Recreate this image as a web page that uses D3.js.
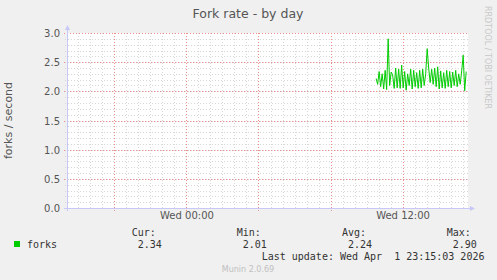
<!DOCTYPE html>
<html>
<head>
<meta charset="utf-8">
<script src="https://cdn.jsdelivr.net/npm/d3@7"></script>
<style>
  body { margin: 0; background: #f0f0f0; }
  text { font-family: "DejaVu Sans", sans-serif; }
  .mono { font-family: "DejaVu Sans Mono", monospace; white-space: pre; }
</style>
</head>
<body>
<div id="chart"></div>
<script>
// data: fork rate samples every 5 minutes, starting Wed 10:32
const startTime = new Date(2026, 3, 1, 10, 32);
const forks = [2.22, 2.12, 2.34, 2.08, 2.30, 2.04, 2.36, 2.03, 2.90, 2.10, 2.33, 2.28, 2.05, 2.40, 2.06,
               2.38, 2.05, 2.45, 2.06, 2.34, 2.02, 2.30, 2.10, 2.38, 2.04, 2.36, 2.08, 2.32, 2.05, 2.36,
               2.06, 2.38, 2.10, 2.30, 2.73, 2.40, 2.15, 2.38, 2.12, 2.40, 2.08, 2.42, 2.04, 2.35, 2.06,
               2.32, 2.05, 2.36, 2.08, 2.34, 2.06, 2.33, 2.10, 2.36, 2.08, 2.30, 2.12, 2.35, 2.62, 2.01, 2.34];
const yTicks = [0, 0.5, 1.0, 1.5, 2.0, 2.5, 3.0];
const xTickLabels = ["Wed 00:00", "Wed 12:00"];
const xTickTimes = [new Date(2026, 3, 1, 0, 0), new Date(2026, 3, 1, 12, 0)];
const statNames = ["Cur:", "Min:", "Avg:", "Max:"];
const statValues = ["2.34", "2.01", "2.24", "2.90"];

const data = forks.map((v, i) => ({ t: new Date(+startTime + i * 5 * 60000), v: v }));

let width = 497, height = 280;
let margin = { top: 33, bottom: 72, left: 67, right: 29 };

let svg = d3.select('#chart')
  .append('svg')
  .attr('width', width)
  .attr('height', height)
  .style('background', '#f0f0f0');

let xScale = d3.scaleTime()
  .domain([new Date(2026, 2, 31, 17, 22), new Date(2026, 3, 1, 15, 38)])
  .range([margin.left, width - margin.right]);

let yScale = d3.scaleLinear()
  .domain([0, 3])
  .range([height - margin.bottom, margin.top]);

// canvas
svg.append('rect')
  .attr('x', margin.left)
  .attr('y', margin.top)
  .attr('width', width - margin.right - margin.left)
  .attr('height', height - margin.bottom - margin.top)
  .attr('fill', 'white');

const inDomain = d => d >= xScale.domain()[0] && d <= xScale.domain()[1];
// minor grid every 40 minutes, major grid every 4 hours
let minorX = d3.range(-12, 24).map(i => new Date(2026, 3, 1, 0, i * 40)).filter(inDomain);
let majorX = d3.range(-2, 5).map(i => new Date(2026, 3, 1, i * 4, 0)).filter(inDomain);
let minorY = d3.range(1, 30).map(i => i / 10);

const px = v => Math.round(v) + 0.5;

let grid = svg.append('g');

grid.selectAll('line.minx')
  .data(minorX)
  .join('line')
  .attr('class', 'minx')
  .attr('x1', d => px(xScale(d)))
  .attr('x2', d => px(xScale(d)))
  .attr('y1', margin.top)
  .attr('y2', height - margin.bottom + 2)
  .attr('stroke', '#d8d8d8')
  .attr('stroke-dasharray', '1,2');

grid.selectAll('line.miny')
  .data(minorY)
  .join('line')
  .attr('class', 'miny')
  .attr('x1', margin.left - 2)
  .attr('x2', width - margin.right)
  .attr('y1', d => px(yScale(d)))
  .attr('y2', d => px(yScale(d)))
  .attr('stroke', '#d8d8d8')
  .attr('stroke-dasharray', '1,2');

grid.selectAll('line.majx')
  .data(majorX)
  .join('line')
  .attr('class', 'majx')
  .attr('x1', d => px(xScale(d)))
  .attr('x2', d => px(xScale(d)))
  .attr('y1', margin.top)
  .attr('y2', height - margin.bottom + 3)
  .attr('stroke', '#f08c8c')
  .attr('stroke-dasharray', '1,2');

grid.selectAll('line.majy')
  .data(yTicks.filter(d => d > 0))
  .join('line')
  .attr('class', 'majy')
  .attr('x1', margin.left - 3)
  .attr('x2', width - margin.right)
  .attr('y1', d => px(yScale(d)))
  .attr('y2', d => px(yScale(d)))
  .attr('stroke', '#f08c8c')
  .attr('stroke-dasharray', '1,2');

// axes
let yAxis = svg.append('g')
  .attr('transform', `translate(${margin.left - 4},0)`)
  .call(d3.axisLeft(yScale).tickValues(yTicks).tickFormat(d3.format('.1f')).tickSize(0).tickPadding(3));
yAxis.select('.domain').remove();
yAxis.selectAll('text').attr('fill', '#555').style('font-size', '10px').attr('dy', '0.35em');

let xAxis = svg.append('g')
  .attr('transform', `translate(0,${height - margin.bottom})`)
  .call(d3.axisBottom(xScale).tickValues(xTickTimes).tickFormat((d, i) => xTickLabels[i]).tickSize(0).tickPadding(4));
xAxis.select('.domain').remove();
xAxis.selectAll('text').attr('fill', '#555').style('font-size', '10px');

// axis lines with arrows
svg.append('line')
  .attr('x1', margin.left + 0.5).attr('x2', margin.left + 0.5)
  .attr('y1', height - margin.bottom + 3).attr('y2', margin.top - 4)
  .attr('stroke', '#c8c8f8');
svg.append('path')
  .attr('d', `M${margin.left - 2},${margin.top - 3} L${margin.left + 3},${margin.top - 3} L${margin.left + 0.5},${margin.top - 8} Z`)
  .attr('fill', '#c8c8f8');
svg.append('line')
  .attr('x1', margin.left - 3).attr('x2', width - margin.right + 3)
  .attr('y1', height - margin.bottom + 0.5).attr('y2', height - margin.bottom + 0.5)
  .attr('stroke', '#c8c8f8');
svg.append('path')
  .attr('d', `M${width - margin.right + 2},${height - margin.bottom - 2} L${width - margin.right + 2},${height - margin.bottom + 3} L${width - margin.right + 7},${height - margin.bottom + 0.5} Z`)
  .attr('fill', '#c8c8f8');

// data line
let line = d3.line()
  .x(d => xScale(d.t))
  .y(d => yScale(d.v));

svg.append('path')
  .datum(data)
  .attr('d', line)
  .attr('fill', 'none')
  .attr('stroke', '#00cc00')
  .attr('stroke-width', 1);

// title
svg.append('text')
  .text('Fork rate - by day')
  .attr('x', 248)
  .attr('y', 18)
  .attr('text-anchor', 'middle')
  .attr('fill', '#555')
  .style('font-size', '12.5px');

// y label
svg.append('text')
  .text('forks / second')
  .attr('transform', `translate(12,${(margin.top + height - margin.bottom) / 2}) rotate(-90)`)
  .attr('text-anchor', 'middle')
  .attr('fill', '#555')
  .style('font-size', '11px');

// side credit
svg.append('text')
  .text('RRDTOOL / TOBI OETIKER')
  .attr('transform', 'translate(485,6) rotate(90)')
  .attr('fill', '#c8c8c8')
  .style('font-size', '8px');

// legend
svg.append('rect')
  .attr('x', 14).attr('y', 241)
  .attr('width', 6).attr('height', 6)
  .attr('fill', '#00cc00');

svg.append('text')
  .attr('class', 'mono')
  .text('forks')
  .attr('x', 27).attr('y', 248)
  .attr('fill', '#333')
  .style('font-size', '10px');

const statX = [131.7, 236.7, 342, 446.7];
statNames.forEach((name, i) => {
  svg.append('text')
    .attr('class', 'mono')
    .text(name)
    .attr('x', statX[i]).attr('y', 236)
    .attr('fill', '#333')
    .style('font-size', '10px');
  svg.append('text')
    .attr('class', 'mono')
    .text(statValues[i])
    .attr('x', statX[i] + 6).attr('y', 248)
    .attr('fill', '#333')
    .style('font-size', '10px');
});

svg.append('text')
  .attr('class', 'mono')
  .text('Last update: Wed Apr  1 23:15:03 2026')
  .attr('x', 261.7).attr('y', 260)
  .attr('fill', '#333')
  .style('font-size', '10px');

svg.append('text')
  .text('Munin 2.0.69')
  .attr('x', 248).attr('y', 272)
  .attr('text-anchor', 'middle')
  .attr('fill', '#c0c0c0')
  .style('font-size', '8px');
</script>
</body>
</html>
